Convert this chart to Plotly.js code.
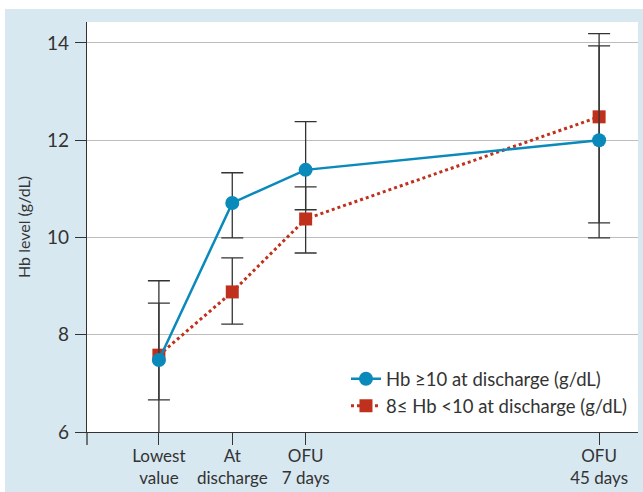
<!DOCTYPE html>
<html><head><meta charset="utf-8">
<script src="https://cdn.plot.ly/plotly-3.0.1.min.js"></script>
<style>html,body{margin:0;padding:0;background:#fff;}#chart{position:absolute;left:5px;top:9px;width:638px;height:483px;}</style>
</head><body><div id="chart"></div>
<script>
const categories = ["Lowest<br>value", "At<br>discharge", "OFU<br>7 days", "OFU<br>45 days"];
const xPos = [0, 1, 2, 6];
const highName = "Hb \u226510 at discharge (g/dL)";
const lowName = "8\u2264 Hb <10 at discharge (g/dL)";
const highMean = [7.48, 10.71, 11.39, 12.0];
const highPlus = [1.17, 0.62, 0.99, 1.94];
const highMinus = [0.82, 0.72, 0.82, 1.70];
const lowMean = [7.58, 8.88, 10.38, 12.48];
const lowPlus = [1.53, 0.70, 0.66, 1.71];
const lowMinus = [1.60, 0.66, 0.70, 2.49];
const yTicks = [6, 8, 10, 12, 14];

const blue = "#0a8abb", red = "#c0311d", ink = "#333333";
const traces = [
  {x: xPos, y: lowMean, name: lowName, type: "scatter", mode: "lines+markers",
   line: {color: red, width: 3, dash: "dot"}, marker: {symbol: "square", size: 13, color: red},
   error_y: {type: "data", symmetric: false, array: lowPlus, arrayminus: lowMinus, color: ink, thickness: 1.3, width: 11},
   legendrank: 2},
  {x: xPos, y: highMean, name: highName, type: "scatter", mode: "lines+markers",
   line: {color: blue, width: 2.5}, marker: {symbol: "circle", size: 14, color: blue},
   error_y: {type: "data", symmetric: false, array: highPlus, arrayminus: highMinus, color: ink, thickness: 1.3, width: 11},
   legendrank: 1}
];
const layout = {
  width: 638, height: 483,
  margin: {l: 82, r: 5, t: 13, b: 60},
  paper_bgcolor: "#d7e8f1", plot_bgcolor: "#ffffff",
  font: {family: "Lato, Open Sans, sans-serif", size: 17, color: ink},
  showlegend: true,
  legend: {x: 0.47, xanchor: "left", y: 0.175, yanchor: "top", bgcolor: "rgba(255,255,255,0)", borderwidth: 0,
           font: {size: 18.5, color: ink}, tracegroupgap: 0},
  xaxis: {range: [-0.98, 6.53], tickvals: xPos, ticktext: categories, showgrid: false, zeroline: false,
          showline: true, linecolor: ink, linewidth: 1.3, ticks: "outside", ticklen: 12, tickcolor: ink, tickwidth: 1.3,
          ticklabelstandoff: -4},
  yaxis: {range: [6, 14.43], tickvals: yTicks, showgrid: true, gridcolor: "#bdbdbd", gridwidth: 1, zeroline: false,
          showline: true, linecolor: ink, linewidth: 1.3, ticks: "outside", ticklen: 11, tickcolor: ink, tickwidth: 1.3,
          tickfont: {size: 19, color: ink}, ticklabelstandoff: 2,
          title: {text: "Hb level (g/dL)", font: {size: 16, color: ink}, standoff: 12}},
  shapes: [{type: "line", xref: "paper", yref: "paper", x0: 0, x1: 0, y0: -0.032, y1: 0, line: {color: ink, width: 1.3}}]
};
Plotly.newPlot("chart", traces, layout, {displayModeBar: false});
</script></body></html>
